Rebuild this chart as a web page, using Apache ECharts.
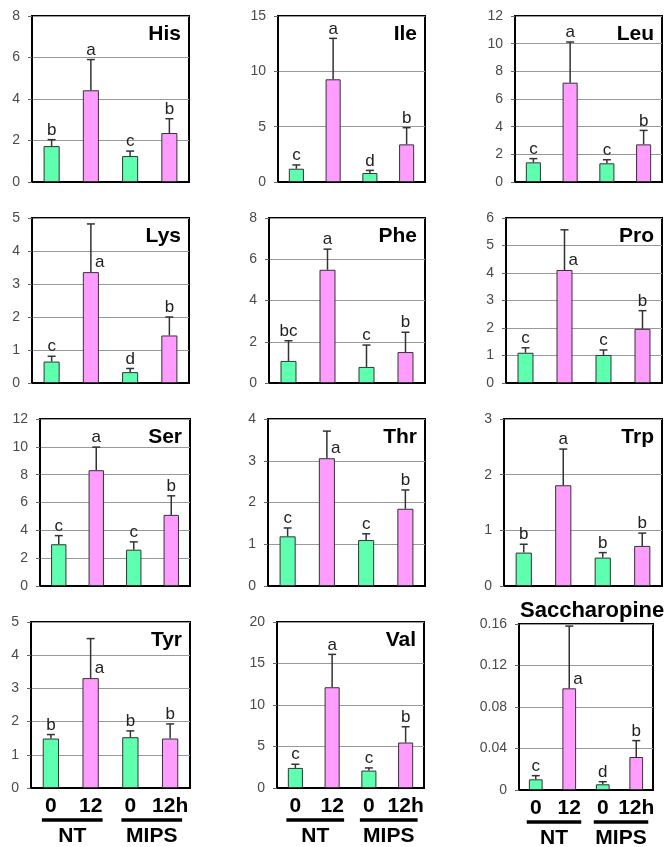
<!DOCTYPE html>
<html>
<head>
<meta charset="utf-8">
<script src="https://cdn.jsdelivr.net/npm/echarts@6/dist/echarts.min.js"></script>
<style>html,body{margin:0;padding:0;background:#fff}#c{width:670px;height:847px}</style>
</head>
<body>
<div id="c"></div>
<script>
// ---- data ----
const categories = ['0', '12', '0', '12h'];
const groupLabels = ['NT', 'MIPS'];
const metabolites = ['His', 'Ile', 'Leu', 'Lys', 'Phe', 'Pro', 'Ser', 'Thr', 'Trp', 'Tyr', 'Val', 'Saccharopine'];

const hisMean = [1.73, 4.42, 1.25, 2.36];   const hisErr = [0.31, 1.48, 0.24, 0.69];   const hisLetters = ['b', 'a', 'c', 'b'];
const ileMean = [1.2, 9.28, 0.81, 3.4];     const ileErr = [0.34, 3.7, 0.24, 1.51];    const ileLetters = ['c', 'a', 'd', 'b'];
const leuMean = [1.42, 7.18, 1.35, 2.72];   const leuErr = [0.27, 2.94, 0.26, 1.01];   const leuLetters = ['c', 'a', 'c', 'b'];
const lysMean = [0.65, 3.36, 0.33, 1.44];   const lysErr = [0.16, 1.46, 0.11, 0.56];   const lysLetters = ['c', 'a', 'd', 'b'];
const pheMean = [1.07, 5.49, 0.78, 1.5];    const pheErr = [0.98, 1.0, 1.06, 0.96];    const pheLetters = ['bc', 'a', 'c', 'b'];
const proMean = [1.1, 4.11, 1.02, 1.97];    const proErr = [0.18, 1.46, 0.18, 0.66];   const proLetters = ['c', 'a', 'c', 'b'];
const serMean = [3.0, 8.32, 2.61, 5.11];    const serErr = [0.62, 1.66, 0.56, 1.37];   const serLetters = ['c', 'a', 'c', 'b'];
const thrMean = [1.19, 3.06, 1.10, 1.85];   const thrErr = [0.2, 0.65, 0.15, 0.45];    const thrLetters = ['c', 'a', 'c', 'b'];
const trpMean = [0.6, 1.81, 0.51, 0.72];    const trpErr = [0.15, 0.65, 0.09, 0.23];   const trpLetters = ['b', 'a', 'b', 'b'];
const tyrMean = [1.49, 3.31, 1.53, 1.49];   const tyrErr = [0.12, 1.19, 0.19, 0.44];   const tyrLetters = ['b', 'a', 'b', 'b'];
const valMean = [2.42, 12.14, 2.1, 5.48];   const valErr = [0.44, 3.96, 0.32, 1.9];    const valLetters = ['c', 'a', 'c', 'b'];
const sacMean = [0.0103, 0.098, 0.0055, 0.0318]; const sacErr = [0.0035, 0.06, 0.0025, 0.0158]; const sacLetters = ['c', 'a', 'd', 'b'];

const yMax  = [8, 15, 12, 5, 8, 6, 12, 4, 3, 5, 20, 0.16];
const yStep = [2, 5, 2, 1, 2, 1, 2, 1, 1, 1, 5, 0.04];

// letters drawn to the right of the error bar instead of above it
const sideLetterPanels = ['Lys', 'Pro', 'Thr', 'Tyr', 'Saccharopine'];

// ---- assembly ----
const means = [hisMean, ileMean, leuMean, lysMean, pheMean, proMean, serMean, thrMean, trpMean, tyrMean, valMean, sacMean];
const errs = [hisErr, ileErr, leuErr, lysErr, pheErr, proErr, serErr, thrErr, trpErr, tyrErr, valErr, sacErr];
const letters = [hisLetters, ileLetters, leuLetters, lysLetters, pheLetters, proLetters, serLetters, thrLetters, trpLetters, tyrLetters, valLetters, sacLetters];

const rects = [
  [32, 16, 157, 166], [278, 16, 147, 166], [515, 16, 147, 166],
  [32, 218, 157, 165], [269, 218, 156, 165], [506, 218, 156, 165],
  [40, 419, 150, 167], [268, 419, 157, 167], [504, 419, 158, 167],
  [31, 622, 159, 166], [277, 622, 147, 166], [519, 624, 134, 166]
];

const FONT = '"Liberation Sans", Arial, sans-serif';
const GREEN = '#5fffb0';
const PINK = '#ff9cff';

const grid = [], xAxis = [], yAxis = [], series = [], title = [];

metabolites.forEach((name, i) => {
  const [l, t, w, h] = rects[i];
  const bottomRow = i >= 9;
  grid.push({left: l, top: t, width: w, height: h, show: true, borderColor: '#000', borderWidth: 2, backgroundColor: '#fff'});
  xAxis.push({
    type: 'category', gridIndex: i, data: categories,
    axisLine: {show: true, lineStyle: {color: '#000', width: 2}},
    axisTick: {show: false},
    axisLabel: {show: bottomRow, fontFamily: FONT, fontSize: 21, fontWeight: 'bold', color: '#000', margin: 8, interval: 0}
  });
  yAxis.push({
    type: 'value', gridIndex: i, min: 0, max: yMax[i], interval: yStep[i],
    axisLine: {show: true, lineStyle: {color: '#000', width: 2}},
    axisTick: {show: true, length: 4, lineStyle: {color: '#666'}},
    axisLabel: {fontFamily: FONT, fontSize: 14, color: '#4a4a4a', margin: 12},
    splitLine: {show: true, lineStyle: {color: '#999', width: 1}}
  });
  series.push({
    type: 'bar', xAxisIndex: i, yAxisIndex: i, barWidth: '41%',
    data: means[i].map((v, j) => ({value: v, itemStyle: {color: j % 2 ? PINK : GREEN}})),
    itemStyle: {borderColor: '#333', borderWidth: 1},
    silent: true, animation: false
  });
  const side = sideLetterPanels.includes(name);
  const lets = letters[i];
  series.push({
    type: 'custom', xAxisIndex: i, yAxisIndex: i, clip: false, silent: true, animation: false, z: 5,
    data: means[i].map((v, j) => [j, v, errs[i][j]]),
    renderItem: (params, api) => {
      const j = api.value(0), m = api.value(1), e = api.value(2);
      const base = api.coord([j, m]);
      const top = api.coord([j, m + e]);
      const st = {stroke: '#333', lineWidth: 1.5};
      const letter = lets[params.dataIndex];
      const useSide = side && params.dataIndex === 1;
      return {type: 'group', children: [
        {type: 'line', shape: {x1: base[0], y1: base[1], x2: top[0], y2: top[1]}, style: st},
        {type: 'line', shape: {x1: top[0] - 4, y1: top[1], x2: top[0] + 4, y2: top[1]}, style: st},
        {type: 'text', style: useSide
          ? {text: letter, x: base[0] + 4, y: base[1] - 1, align: 'left', verticalAlign: 'bottom', fill: '#222', font: '17px ' + FONT}
          : {text: letter, x: top[0], y: top[1] - 1, align: 'center', verticalAlign: 'bottom', fill: '#222', font: '17px ' + FONT}}
      ]};
    }
  });
  if (bottomRow) {
    series.push({
      type: 'custom', xAxisIndex: i, yAxisIndex: i, clip: false, silent: true, animation: false,
      data: groupLabels.map((g, k) => [2 * k, 2 * k + 1, k]),
      renderItem: (params, api) => {
        const p1 = api.coord([api.value(0), 0]);
        const p2 = api.coord([api.value(1), 0]);
        const y = p1[1] + 32;
        const x1 = p1[0] - 9, x2 = p2[0] + 12;
        return {type: 'group', children: [
          {type: 'line', shape: {x1: x1, y1: y, x2: x2, y2: y}, style: {stroke: '#000', lineWidth: 3.5}},
          {type: 'text', style: {text: groupLabels[params.dataIndex], x: (x1 + x2) / 2, y: y + 16, align: 'center', verticalAlign: 'middle', fill: '#000', font: 'bold 21px ' + FONT}}
        ]};
      }
    });
  }
  if (name === 'Saccharopine') {
    title.push({text: name, left: l + 1, top: t - 24, padding: 0, textStyle: {fontFamily: FONT, fontSize: 22, fontWeight: 'bold', color: '#000'}});
  } else {
    title.push({text: name, right: 670 - (l + w) + 8, top: t + 8, padding: 0, textStyle: {fontFamily: FONT, fontSize: 21, fontWeight: 'bold', color: '#000'}});
  }
});

const chart = echarts.init(document.getElementById('c'), null, {renderer: 'canvas'});
chart.setOption({animation: false, backgroundColor: '#fff', title, grid, xAxis, yAxis, series});
</script>
</body>
</html>
